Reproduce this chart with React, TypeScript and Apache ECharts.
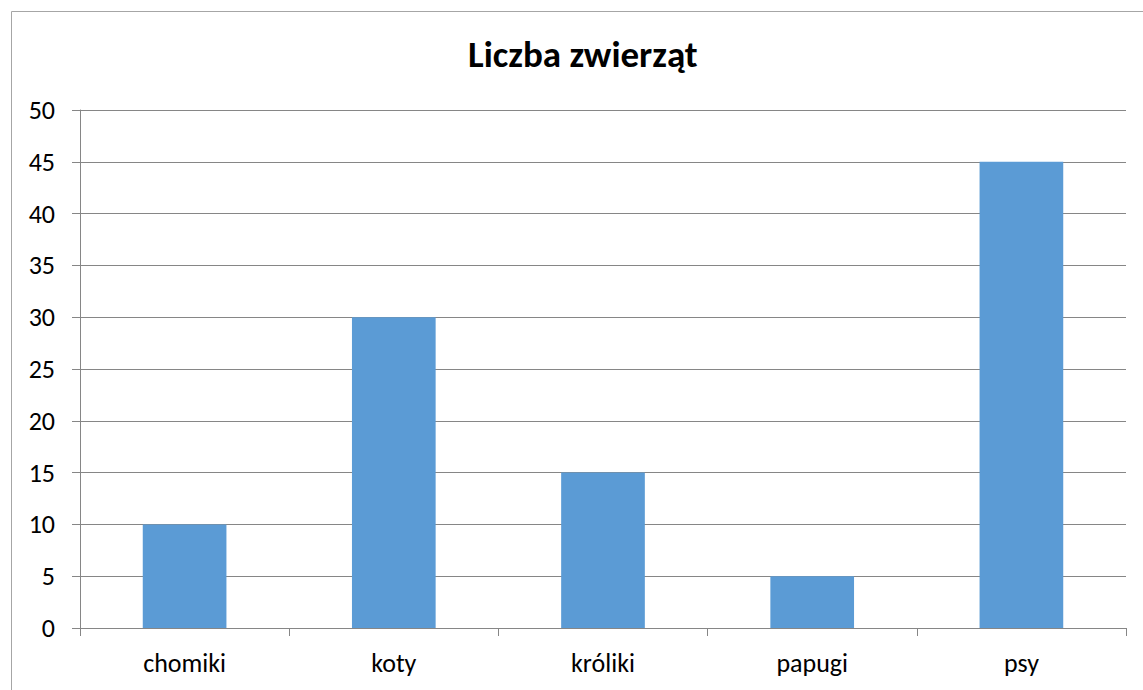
import React, { useEffect, useRef } from "react";
import * as echarts from "echarts";

const categories = ["chomiki", "koty", "króliki", "papugi", "psy"];
const values = [10, 30, 15, 5, 45];
const titleText = "Liczba zwierząt";

export default function App() {
  const ref = useRef<HTMLDivElement>(null);
  useEffect(() => {
    const chart = echarts.init(ref.current!, null, { renderer: "svg" });
    const font = "Carlito, Lato, 'Open Sans', sans-serif";
    chart.setOption({
      animation: false,
      backgroundColor: "#ffffff",
      title: {
        text: titleText,
        left: 463,
        top: 31,
        textStyle: { fontFamily: font, fontSize: 37, fontWeight: "bold", color: "#000" },
      },
      graphic: [
        {
          type: "rect",
          shape: { x: 11.5, y: 11.5, width: 1200, height: 800 },
          style: { fill: "none", stroke: "#a6a6a6", lineWidth: 1 },
          silent: true,
        },
      ],
      grid: { left: 80, right: 17, top: 110, bottom: 62, containLabel: false },
      xAxis: {
        type: "category",
        data: categories,
        axisLine: { lineStyle: { color: "#868686" } },
        axisTick: { show: true, length: 8, alignWithLabel: false, lineStyle: { color: "#868686" } },
        axisLabel: { fontFamily: font, fontSize: 26, color: "#000", margin: 22 },
      },
      yAxis: {
        type: "value",
        min: 0,
        max: 50,
        interval: 5,
        axisLine: { show: true, lineStyle: { color: "#868686" } },
        axisTick: { show: true, length: 8, lineStyle: { color: "#868686" } },
        splitLine: { show: true, lineStyle: { color: "#868686" } },
        axisLabel: { fontFamily: font, fontSize: 26, color: "#000", margin: 25 },
      },
      series: [
        {
          type: "bar",
          data: values,
          barWidth: "40%",
          itemStyle: { color: "#5b9bd5" },
        },
      ],
    });
    return () => chart.dispose();
  }, []);
  return (
    <div
      ref={ref}
      style={{ position: "fixed", left: 0, top: 0, width: 1143, height: 690 }}
    />
  );
}
